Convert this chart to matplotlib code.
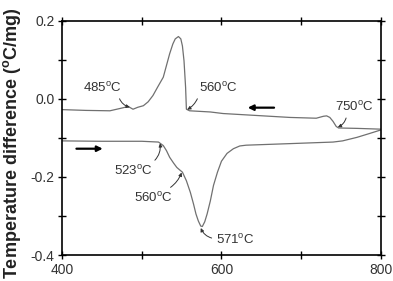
import matplotlib
matplotlib.use("Agg")
import matplotlib.pyplot as plt

plt.rcParams['font.family'] = ['Liberation Sans', 'DejaVu Sans']
plt.rcParams['mathtext.fontset'] = 'custom'
plt.rcParams['mathtext.rm'] = 'Liberation Sans'
plt.rcParams['mathtext.bf'] = 'Liberation Sans:bold'

# cooling curve (upper)
cool_T = [400, 430, 460, 475, 483, 489, 495, 502, 508, 514, 520, 527, 531, 535,
          539, 542, 546, 549, 551, 553, 555, 556, 560, 586, 602, 644, 686, 719,
          728, 732, 736, 740, 744, 747, 770, 800]
cool_v = [-0.028, -0.030, -0.031, -0.024, -0.020, -0.027, -0.022, -0.018, -0.008,
          0.008, 0.030, 0.055, 0.085, 0.115, 0.140, 0.153, 0.159, 0.153, 0.135,
          0.097, 0.029, -0.027, -0.031, -0.034, -0.038, -0.043, -0.048, -0.050,
          -0.045, -0.044, -0.048, -0.058, -0.071, -0.075, -0.076, -0.078]

# heating curve (lower)
heat_T = [400, 450, 500, 521, 527, 531, 535, 540, 544, 548, 551, 556, 561, 565,
          568, 571, 574, 576, 579, 582, 586, 590, 595, 600, 607, 615, 623, 631,
          686, 740, 752, 770, 786, 800]
heat_v = [-0.108, -0.109, -0.109, -0.111, -0.120, -0.133, -0.150, -0.165, -0.176,
          -0.183, -0.188, -0.210, -0.240, -0.270, -0.295, -0.313, -0.326, -0.327,
          -0.315, -0.295, -0.262, -0.222, -0.188, -0.160, -0.140, -0.128, -0.121,
          -0.119, -0.115, -0.111, -0.108, -0.099, -0.089, -0.080]

# annotations: temperature, point, text position, arrow start on text, curvature
notes = [
    (485, (485, -0.022), (451, 0.028), (0.9, 0.0), 0.3),
    (560, (557, -0.028), (596, 0.028), (0.0, 0.0), -0.2),
    (750, (746, -0.073), (767, -0.021), (0.3, 0.0), -0.3),
    (523, (523, -0.114), (489, -0.185), (0.95, 1.0), 0.3),
    (560, (550, -0.189), (514, -0.254), (0.8, 1.0), 0.2),
    (571, (574, -0.331), (617, -0.362), (0.0, 0.6), -0.3),
]

fig = plt.figure(figsize=(3.93, 2.81), dpi=100)
ax = fig.add_axes([0.158, 0.0925, 0.811, 0.8345])

ax.plot(cool_T, cool_v, color='#707070', lw=0.9)
ax.plot(heat_T, heat_v, color='#707070', lw=0.9)

for temp, xy, xytext, rel, rad in notes:
    ax.annotate(f'{temp}$^{{\\mathrm{{o}}}}$C', xy=xy, xytext=xytext, ha='center',
                va='center', fontsize=9.5, color='#333333',
                arrowprops=dict(arrowstyle='-|>', color='#333333', lw=0.7,
                                mutation_scale=5, relpos=rel, shrinkA=1, shrinkB=0,
                                connectionstyle=f'arc3,rad={rad}'))

# direction arrows
ax.annotate('', xy=(633, -0.023), xytext=(666, -0.023),
            arrowprops=dict(arrowstyle='-|>', color='black', lw=1.6, mutation_scale=8,
                            shrinkA=0, shrinkB=0))
ax.annotate('', xy=(451, -0.128), xytext=(418, -0.128),
            arrowprops=dict(arrowstyle='-|>', color='black', lw=1.6, mutation_scale=8,
                            shrinkA=0, shrinkB=0))

ax.set_xlim(400, 800)
ax.set_ylim(-0.4, 0.2)
ax.set_xticks([400, 600, 800])
ax.set_xticks([500, 700], minor=True)
ax.set_yticks([-0.4, -0.2, 0.0, 0.2])
ax.set_yticklabels(['-0.4', '-0.2', '0.0', '0.2'])
ax.set_yticks([-0.3, -0.1, 0.1], minor=True)
ax.tick_params(which='both', direction='inout', length=6, width=1, top=True, right=True,
               labelsize=10, labelcolor='#333333', pad=2.5)
for s in ax.spines.values():
    s.set_linewidth(1.2)

fig.text(0.031, 0.008, 'Temperature difference ($^{\\mathbf{o}}$C/mg)', rotation=90,
         ha='center', va='bottom', fontsize=13, fontweight='bold', color='#222222')

fig.savefig('out.png', dpi=100)
